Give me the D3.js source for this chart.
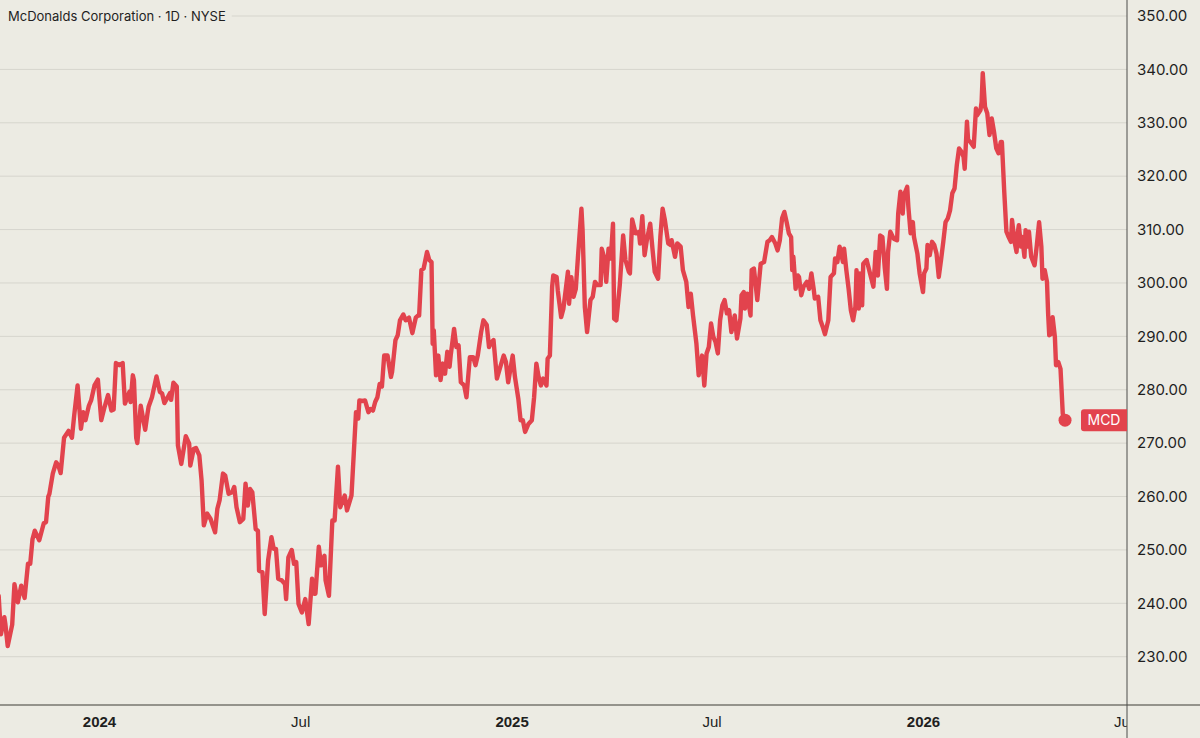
<!DOCTYPE html>
<html>
<head>
<meta charset="utf-8">
<script src="https://cdn.jsdelivr.net/npm/d3@7"></script>
<style>
  html, body { margin: 0; padding: 0; background: #ecebe3; }
  svg { display: block; font-family: Inter, "Noto Sans", sans-serif; }
  .ylab text { font-size: 15px; fill: #1f1f1f; }
  .xlab text { font-size: 15px; fill: #1f1f1f; }
  .xlab text.year { font-weight: 700; }
</style>
</head>
<body>
<svg width="1200" height="738"></svg>
<script>
var dates = [
  "2023-10-04","2023-10-06","2023-10-09","2023-10-10","2023-10-12","2023-10-16","2023-10-18","2023-10-21","2023-10-24","2023-10-27",
  "2023-10-30","2023-11-01","2023-11-03","2023-11-05","2023-11-09","2023-11-13","2023-11-15","2023-11-17","2023-11-18","2023-11-21",
  "2023-11-24","2023-11-26","2023-11-28","2023-12-01","2023-12-05","2023-12-08","2023-12-10","2023-12-13","2023-12-16","2023-12-18",
  "2023-12-20","2023-12-23","2023-12-25","2023-12-28","2023-12-31",
  "2024-01-03","2024-01-06","2024-01-09","2024-01-12","2024-01-14","2024-01-16","2024-01-19","2024-01-22","2024-01-24","2024-01-28",
  "2024-01-29","2024-01-31","2024-02-01","2024-02-03","2024-02-04","2024-02-07","2024-02-11","2024-02-13","2024-02-14","2024-02-17",
  "2024-02-21","2024-02-24","2024-02-26","2024-02-28","2024-03-02","2024-03-04","2024-03-05","2024-03-07","2024-03-10","2024-03-11",
  "2024-03-14","2024-03-18","2024-03-21","2024-03-22","2024-03-25","2024-03-27","2024-03-30","2024-04-01","2024-04-03","2024-04-06",
  "2024-04-09","2024-04-13","2024-04-15","2024-04-17","2024-04-20","2024-04-22","2024-04-25","2024-04-28","2024-04-30","2024-05-02",
  "2024-05-05","2024-05-08","2024-05-10","2024-05-12","2024-05-14","2024-05-16","2024-05-19","2024-05-21","2024-05-22","2024-05-25",
  "2024-05-27","2024-05-30","2024-06-02","2024-06-04","2024-06-06","2024-06-08","2024-06-11","2024-06-14","2024-06-15","2024-06-17",
  "2024-06-20","2024-06-22","2024-06-24","2024-06-26","2024-06-29","2024-07-02","2024-07-05","2024-07-08","2024-07-10","2024-07-11",
  "2024-07-14","2024-07-16","2024-07-19","2024-07-20","2024-07-23","2024-07-26","2024-07-28","2024-07-31","2024-08-02","2024-08-06",
  "2024-08-08","2024-08-12","2024-08-14","2024-08-16","2024-08-18","2024-08-19","2024-08-22","2024-08-24","2024-08-27","2024-08-29",
  "2024-08-31","2024-09-02","2024-09-04","2024-09-06","2024-09-08","2024-09-10","2024-09-13","2024-09-16","2024-09-17","2024-09-20",
  "2024-09-22","2024-09-24","2024-09-27","2024-09-29","2024-10-02","2024-10-05","2024-10-08","2024-10-10","2024-10-11","2024-10-13",
  "2024-10-15","2024-10-18","2024-10-20","2024-10-22","2024-10-23","2024-10-24","2024-10-26","2024-10-28","2024-10-30","2024-11-01",
  "2024-11-03","2024-11-05","2024-11-07","2024-11-08","2024-11-11","2024-11-13","2024-11-15","2024-11-17","2024-11-20","2024-11-22",
  "2024-11-25","2024-11-28","2024-11-30","2024-12-02","2024-12-05","2024-12-07","2024-12-10","2024-12-12","2024-12-14","2024-12-16",
  "2024-12-19","2024-12-22","2024-12-25","2024-12-27","2024-12-29","2024-12-31",
  "2025-01-02","2025-01-04","2025-01-07","2025-01-09","2025-01-11","2025-01-13","2025-01-16","2025-01-19","2025-01-21","2025-01-23",
  "2025-01-25","2025-01-27","2025-01-29","2025-02-01","2025-02-02","2025-02-04","2025-02-06","2025-02-07","2025-02-10","2025-02-11",
  "2025-02-14","2025-02-16","2025-02-20","2025-02-21","2025-02-23","2025-02-25","2025-02-27","2025-03-01","2025-03-04","2025-03-05",
  "2025-03-07","2025-03-09","2025-03-12","2025-03-14","2025-03-16","2025-03-18","2025-03-21","2025-03-22","2025-03-24","2025-03-26",
  "2025-03-28","2025-03-30","2025-04-01","2025-04-02","2025-04-04","2025-04-07","2025-04-10","2025-04-12","2025-04-15","2025-04-16",
  "2025-04-18","2025-04-21","2025-04-22","2025-04-24","2025-04-25","2025-04-27","2025-04-29","2025-05-01","2025-05-04","2025-05-06",
  "2025-05-08","2025-05-11","2025-05-13","2025-05-15","2025-05-17","2025-05-20","2025-05-22","2025-05-23","2025-05-26","2025-05-28",
  "2025-05-31","2025-06-02","2025-06-05","2025-06-07","2025-06-09","2025-06-11","2025-06-14","2025-06-16","2025-06-19","2025-06-21",
  "2025-06-23","2025-06-25","2025-06-27","2025-06-29","2025-07-01","2025-07-03","2025-07-05","2025-07-07","2025-07-09","2025-07-11",
  "2025-07-13","2025-07-15","2025-07-18","2025-07-20","2025-07-23","2025-07-24","2025-07-26","2025-07-27","2025-07-29","2025-08-01",
  "2025-08-02","2025-08-04","2025-08-07","2025-08-10","2025-08-13","2025-08-16","2025-08-18","2025-08-20","2025-08-23","2025-08-25",
  "2025-08-27","2025-08-29","2025-08-31","2025-09-02","2025-09-04","2025-09-06","2025-09-07","2025-09-08","2025-09-10","2025-09-12",
  "2025-09-13","2025-09-15","2025-09-17","2025-09-20","2025-09-22","2025-09-24","2025-09-26","2025-09-27","2025-09-30","2025-10-02",
  "2025-10-04","2025-10-06","2025-10-09","2025-10-11","2025-10-14","2025-10-15","2025-10-17","2025-10-19","2025-10-22","2025-10-23",
  "2025-10-25","2025-10-27","2025-10-29","2025-10-31","2025-11-02","2025-11-03","2025-11-05","2025-11-06","2025-11-08","2025-11-09",
  "2025-11-12","2025-11-15","2025-11-18","2025-11-20","2025-11-22","2025-11-24","2025-11-26","2025-11-28","2025-11-30","2025-12-01",
  "2025-12-03","2025-12-06","2025-12-09","2025-12-10","2025-12-12","2025-12-14","2025-12-15","2025-12-18","2025-12-19","2025-12-21",
  "2025-12-23","2025-12-24","2025-12-27","2025-12-29",
  "2026-01-01","2026-01-02","2026-01-04","2026-01-05","2026-01-07","2026-01-09","2026-01-11","2026-01-13","2026-01-15","2026-01-17",
  "2026-01-19","2026-01-21","2026-01-23","2026-01-25","2026-01-27","2026-01-29","2026-01-31","2026-02-02","2026-02-04","2026-02-06",
  "2026-02-07","2026-02-09","2026-02-10","2026-02-12","2026-02-15","2026-02-17","2026-02-18","2026-02-21","2026-02-22","2026-02-23",
  "2026-02-25","2026-02-27","2026-03-01","2026-03-03","2026-03-05","2026-03-07","2026-03-09","2026-03-11","2026-03-12","2026-03-14",
  "2026-03-16","2026-03-18","2026-03-20","2026-03-21","2026-03-23","2026-03-25","2026-03-26","2026-03-27","2026-03-29","2026-03-30",
  "2026-04-01","2026-04-02","2026-04-04","2026-04-05","2026-04-07","2026-04-10","2026-04-12","2026-04-14","2026-04-16","2026-04-17",
  "2026-04-19","2026-04-21","2026-04-22","2026-04-23","2026-04-25","2026-04-26","2026-04-28","2026-04-29","2026-05-01","2026-05-03",
  "2026-05-05","2026-05-07"
]

var closes = [
  241.4,234.2,237.4,236.0,232.0,236.0,243.6,240.2,243.3,241.0,
  247.4,247.4,252.0,253.6,251.8,255.0,255.2,260.0,260.5,264.3,
  266.4,265.8,264.4,271.0,272.3,271.0,275.2,280.8,272.7,275.8,
  274.3,277.0,278.0,280.8,281.9,
  274.3,276.8,279.0,276.1,276.3,285.0,284.6,285.0,277.4,279.6,
  277.7,282.7,281.8,271.0,270.0,277.0,272.5,275.5,276.8,278.6,
  282.5,279.6,279.3,277.5,278.6,279.4,278.1,281.3,280.6,269.6,
  266.1,271.3,269.9,265.8,268.9,269.1,267.7,263.0,254.6,256.8,
  255.8,253.3,257.7,259.3,264.3,263.9,260.5,260.8,261.8,258.0,
  255.2,255.8,262.4,258.3,261.4,260.8,253.9,253.6,246.1,245.8,
  238.0,248.0,252.4,250.2,250.2,244.6,244.3,243.6,240.8,248.6,
  250.0,247.4,247.7,239.9,238.3,240.8,236.1,244.6,241.8,241.8,
  250.6,247.1,248.9,244.3,241.4,255.5,255.5,265.6,258.0,260.2,
  257.4,260.2,268.0,275.8,274.6,278.0,277.9,278.0,275.8,276.4,
  276.1,277.7,278.6,281.1,280.6,286.4,286.4,282.4,283.3,289.3,
  290.2,293.0,294.1,293.0,293.5,290.6,293.5,293.9,293.9,302.4,
  302.7,305.8,304.3,303.9,288.6,291.1,282.7,286.4,281.8,284.9,
  283.0,287.1,284.3,286.4,291.4,288.0,288.3,281.4,280.8,278.6,
  286.1,286.1,284.6,286.4,290.8,293.0,292.1,288.0,288.9,289.3,
  282.1,284.3,286.4,285.2,281.4,283.9,
  286.4,282.4,278.3,274.3,274.3,272.1,273.6,274.3,278.6,284.9,
  282.4,280.8,282.1,280.8,285.8,286.4,299.3,301.4,301.1,298.6,
  293.6,295.2,302.1,296.1,301.1,297.4,298.9,305.2,313.9,309.9,
  295.5,290.8,296.8,297.4,300.2,299.6,299.6,306.4,304.9,300.2,
  306.4,304.6,311.1,293.3,293.0,299.6,308.9,304.3,302.1,301.8,
  311.9,309.3,309.3,309.6,307.4,312.5,305.2,308.0,311.1,306.4,
  302.1,300.8,308.6,313.9,311.8,307.4,307.1,308.0,304.9,307.4,
  306.8,302.4,300.2,295.5,298.0,293.9,288.6,282.7,286.4,280.8,
  286.8,288.0,292.4,289.9,288.9,286.8,293.0,295.8,296.8,294.3,
  294.9,290.8,293.9,289.6,293.3,297.7,298.3,295.2,298.0,293.9,
  302.4,302.7,296.8,303.6,303.9,307.7,308.0,308.6,307.4,306.1,
  308.0,312.1,313.3,311.4,309.3,308.6,302.4,304.9,298.9,301.4,
  301.1,297.7,299.3,300.2,298.9,301.8,298.9,297.1,297.4,293.0,
  291.8,290.4,293.0,301.1,301.8,304.6,303.9,306.8,303.9,306.4,
  302.4,298.9,294.9,293.0,295.5,302.4,295.2,301.8,295.8,303.6,
  304.3,301.8,299.3,305.8,301.4,308.9,308.6,303.0,298.9,305.8,
  309.6,308.3,308.0,313.0,317.1,313.0,316.4,318.0,314.3,309.3,
  311.4,308.6,305.5,301.8,
  298.3,301.8,302.7,307.1,305.2,307.7,307.1,305.5,301.1,304.3,
  307.7,311.4,312.1,313.6,316.8,317.7,322.1,325.2,324.6,323.6,
  321.4,330.2,326.8,326.4,325.5,332.7,331.4,332.4,333.9,339.3,
  333.0,331.8,327.7,330.8,328.3,325.2,324.3,326.4,326.4,317.4,
  309.6,308.6,307.7,311.8,308.0,305.8,309.3,310.8,306.8,308.6,
  304.9,309.9,306.8,309.6,304.9,303.3,307.1,311.4,306.8,300.8,
  302.4,300.2,294.3,290.2,290.5,293.6,289.9,284.6,285.2,283.9,
  275.5,274.3
]

var priceTicks = [230, 240, 250, 260, 270, 280, 290, 300, 310, 320, 330, 340, 350]
var timeTicks = ["2024-01-01", "2024-07-01", "2025-01-01", "2025-07-01", "2026-01-01", "2026-07-01"]
var timeLabels = ["2024", "Jul", "2025", "Jul", "2026", "Jul"]
var title = "McDonalds Corporation \u00b7 1D \u00b7 NYSE"
var symbol = "MCD"

var W = 1200, H = 738
var plotRight = 1127, plotBottom = 705
var lineColor = "#e2434d"

var parse = d3.timeParse("%Y-%m-%d")
var data = dates.map((d, i) => ({ date: parse(d), close: closes[i] }))

var svg = d3.select("svg")

var x = d3.scaleTime()
  .domain([parse("2024-01-01"), parse("2026-01-01")])
  .range([99, 923])

var y = d3.scaleLinear()
  .domain([230, 350])
  .range([656.7, 16])

svg.append("clipPath").attr("id", "plotClip")
  .append("rect").attr("x", 0).attr("y", 0).attr("width", plotRight).attr("height", plotBottom)

// grid
svg.append("g").attr("class", "grid")
  .selectAll("line")
  .data(priceTicks)
  .enter()
  .append("line")
  .attr("x1", 0).attr("x2", plotRight)
  .attr("y1", d => y(d)).attr("y2", d => y(d))
  .style("stroke", "#d6d5cd").style("stroke-width", 1)

// price line
var lineGen = d3.line()
  .x(d => x(d.date))
  .y(d => y(d.close))

svg.append("g").attr("clip-path", "url(#plotClip)")
  .append("path")
  .datum(data)
  .attr("d", lineGen)
  .style("fill", "none")
  .style("stroke", lineColor)
  .style("stroke-width", 4.4)
  .style("stroke-linejoin", "round")
  .style("stroke-linecap", "round")

var last = data[data.length - 1]
svg.append("circle")
  .attr("cx", x(last.date)).attr("cy", y(last.close)).attr("r", 6.5)
  .style("fill", lineColor)

// title with its own backing so the top grid line stops behind it
var titleG = svg.append("g")
var titleText = titleG.append("text")
  .attr("x", 8).attr("y", 21)
  .style("font-size", "13px").style("fill", "#1f1f1f")
  .text(title)
var tb = titleText.node().getBBox()
titleG.insert("rect", "text")
  .attr("x", 0).attr("y", tb.y - 2).attr("width", tb.x + tb.width + 6).attr("height", tb.height + 4)
  .style("fill", "#ecebe3")

// y axis on the right
var yAxis = d3.axisRight(y)
  .tickValues(priceTicks)
  .tickSize(0)
  .tickPadding(10)
  .tickFormat(d3.format(".2f"))

svg.append("g").attr("class", "ylab")
  .attr("transform", `translate(${plotRight},0)`)
  .call(yAxis)
  .call(g => g.select(".domain").remove())
  .selectAll("text").style("font-family", "Inter, sans-serif")

// x axis, clipped at the price scale
var xAxis = d3.axisBottom(x)
  .tickValues(timeTicks.map(parse))
  .tickSize(0)
  .tickPadding(0)
  .tickFormat((d, i) => timeLabels[i])

svg.append("clipPath").attr("id", "xClip")
  .append("rect").attr("x", 0).attr("y", plotBottom).attr("width", plotRight).attr("height", H - plotBottom)

svg.append("g").attr("clip-path", "url(#xClip)")
  .append("g").attr("class", "xlab")
  .attr("transform", `translate(0,${plotBottom})`)
  .call(xAxis)
  .call(g => g.select(".domain").remove())
  .selectAll("text")
  .attr("y", 22)
  .attr("dy", 0)
  .attr("dx", (d, i) => timeLabels[i] === "Jul" ? -4 : 0)
  .classed("year", (d, i) => timeLabels[i] !== "Jul")

// axis lines
svg.append("line")
  .attr("x1", 0).attr("x2", W).attr("y1", plotBottom).attr("y2", plotBottom)
  .style("stroke", "#77766f").style("stroke-width", 1.5)
svg.append("line")
  .attr("x1", plotRight).attr("x2", plotRight).attr("y1", 0).attr("y2", H)
  .style("stroke", "#4d4d4a").style("stroke-width", 1)

// last price tag
var tagY = y(last.close)
svg.append("path")
  .attr("d", `M${plotRight},${tagY - 11} H1084 Q1081,${tagY - 11} 1081,${tagY - 8} V${tagY + 8} Q1081,${tagY + 11} 1084,${tagY + 11} H${plotRight} Z`)
  .style("fill", lineColor)
svg.append("text")
  .attr("x", 1104).attr("y", tagY + 5)
  .attr("text-anchor", "middle")
  .style("font-size", "14px").style("fill", "#ffffff")
  .text(symbol)
</script>
</body>
</html>
